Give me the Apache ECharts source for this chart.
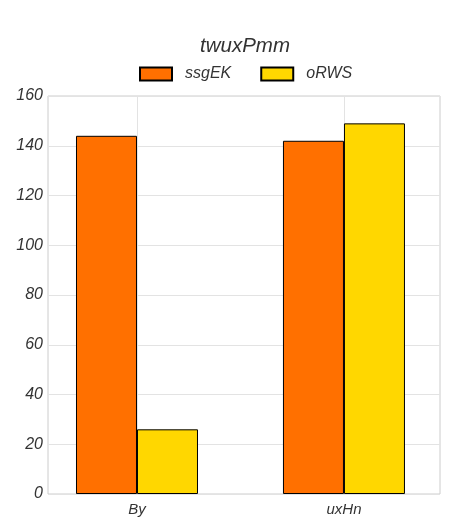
<!DOCTYPE html>
<html>
<head>
<meta charset="utf-8">
<script src="https://cdn.jsdelivr.net/npm/echarts@6/dist/echarts.min.js"></script>
<style>
html, body { margin: 0; padding: 0; background: #fff; }
#chartDiv { width: 456px; height: 532px; }
</style>
</head>
<body>
<div id="chartDiv"></div>
<script>
var chartTitle = 'twuxPmm';
var categories = ['By', 'uxHn'];
var seriesNames = ['ssgEK', 'oRWS'];
var ssgEKValues = [144, 142];
var oRWSValues = [26, 149];

var fontName = 'Liberation Sans';
var chartDiv = echarts.init(document.getElementById('chartDiv'));

// category positions on a numeric x axis, so bars sit beside the tick line
function toPoints(values) {
    return values.map(function (v, i) { return [i, v]; });
}

var option = {
    animation: false,
    title: {
        text: chartTitle,
        left: 240,
        textAlign: 'center',
        top: 31,
        textStyle: { fontFamily: fontName, fontStyle: 'italic', fontWeight: 'normal', fontSize: 20.5, color: '#333' }
    },
    legend: {
        top: 61,
        left: 134,
        icon: 'rect',
        itemWidth: 32,
        itemHeight: 13,
        itemGap: 29,
        data: seriesNames,
        textStyle: { fontFamily: fontName, fontStyle: 'italic', fontSize: 16, color: '#333', padding: [0, 0, 0, 8] }
    },
    grid: {
        left: 48,
        right: 16,
        top: 96,
        bottom: 38,
        show: true,
        borderColor: '#cccccc',
        borderWidth: 1
    },
    xAxis: {
        type: 'value',
        min: -0.43,
        max: 1.464,
        axisLine: { show: false },
        axisTick: { show: false, customValues: [0, 1] },
        axisLabel: {
            customValues: [0, 1],
            formatter: function (v) { return categories[Math.round(v)]; },
            fontFamily: fontName, fontStyle: 'italic', fontSize: 15, color: '#333', margin: 8
        },
        splitLine: { show: true, lineStyle: { color: '#e3e3e3' } }
    },
    yAxis: {
        type: 'value',
        min: 0,
        max: 160,
        interval: 20,
        axisLine: { show: false },
        axisTick: { show: false },
        axisLabel: { fontFamily: fontName, fontStyle: 'italic', fontSize: 16, color: '#333', margin: 5 },
        splitLine: { show: true, lineStyle: { color: '#e3e3e3' } }
    },
    series: [
        {
            name: seriesNames[0],
            type: 'bar',
            data: toPoints(ssgEKValues),
            barWidth: 61,
            barGap: '0%',
            itemStyle: { color: '#ff7000', borderColor: '#000', borderWidth: 1 }
        },
        {
            name: seriesNames[1],
            type: 'bar',
            data: toPoints(oRWSValues),
            barWidth: 61,
            barGap: '0%',
            itemStyle: { color: '#ffd700', borderColor: '#000', borderWidth: 1 }
        }
    ]
};
chartDiv.setOption(option);
</script>
</body>
</html>
